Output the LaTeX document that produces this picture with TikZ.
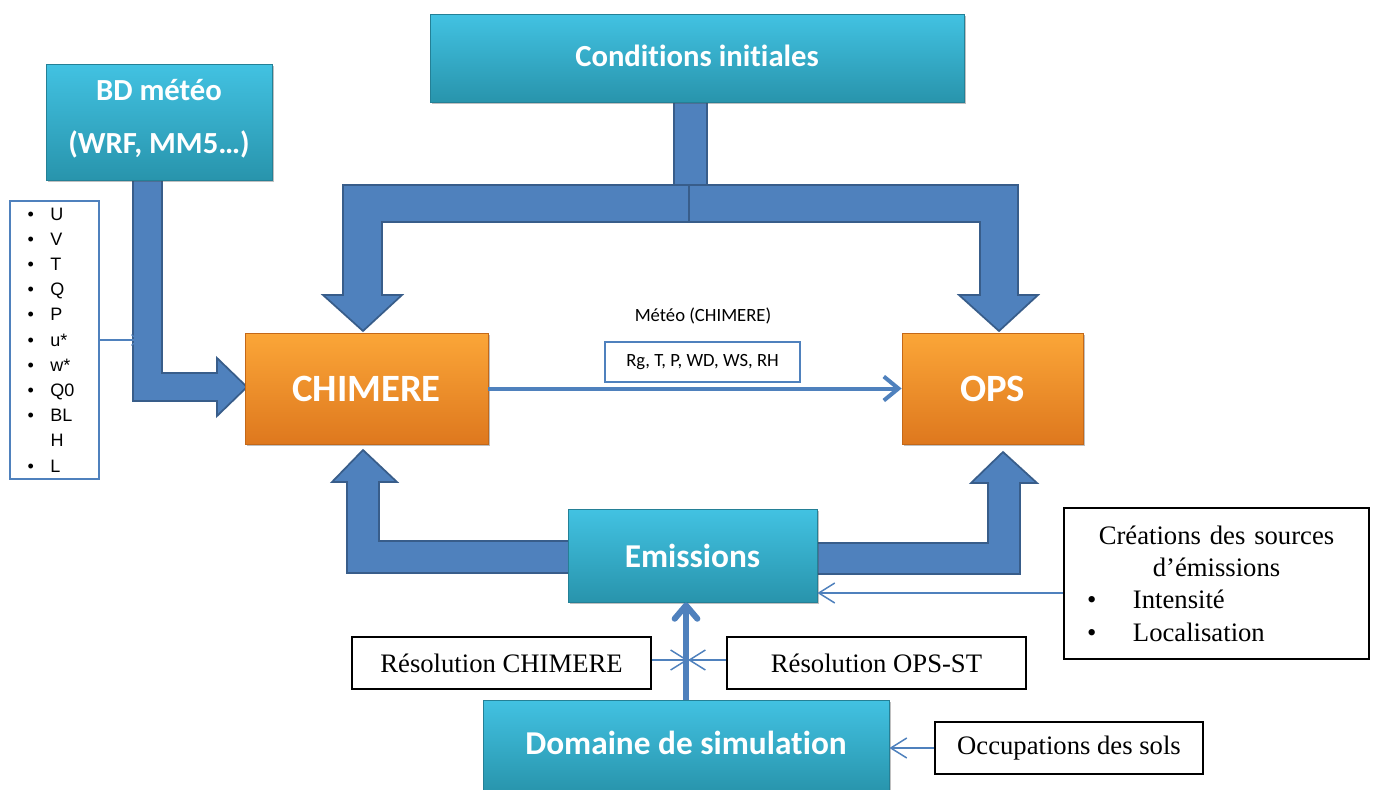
\documentclass[tikz,border=0pt]{standalone}
\usepackage{fontspec}
\setmainfont{Liberation Serif}
\newfontfamily\calibri[Ligatures=NoCommon]{Carlito}
\newfontfamily\arialf{Liberation Sans}
\usetikzlibrary{arrows.meta,shadows,calc}
\definecolor{tealtop}{RGB}{66,194,226}
\definecolor{tealbot}{RGB}{40,148,172}
\definecolor{tealedge}{RGB}{36,128,150}
\definecolor{orgtop}{RGB}{251,166,56}
\definecolor{orgbot}{RGB}{222,120,30}
\definecolor{orgedge}{RGB}{196,104,24}
\definecolor{blk}{RGB}{79,129,189}
\definecolor{blkedge}{RGB}{56,93,138}
\tikzset{
  boxshadow/.style={drop shadow={shadow xshift=1.8pt,shadow yshift=-1.8pt,opacity=0.35,fill=black!70}},
  tealbox/.style={draw=tealedge, line width=0.6pt, top color=tealtop, bottom color=tealbot,
     text=white, boxshadow, inner sep=0pt},
  orangebox/.style={draw=orgedge, line width=0.6pt, top color=orgtop, bottom color=orgbot,
     text=white, boxshadow, inner sep=0pt},
  blockarrow/.style={fill=blk, draw=blkedge, line width=1.3pt, line join=miter},
  plainbox/.style={draw=black, line width=1.2pt, fill=white, inner sep=0pt,
     font=\fontsize{20}{24}\selectfont},
  thinarr/.style={draw=blk, line width=1.1pt, -{Straight Barb[length=12pt,width=15pt]}},
  smallarr/.style={draw=blk, line width=0.8pt, -{Straight Barb[length=5pt,width=8pt]}},
  midarr/.style={draw=blk, line width=3pt, -{Straight Barb[length=11pt,width=18pt]}},
  vertarr/.style={draw=blk, line width=4.5pt, -{Straight Barb[round,length=10pt,width=17pt]}},
}
\begin{document}
\begin{tikzpicture}[x=0.75pt,y=-0.75pt]
\fill[white] (0,0) rectangle (1376,789);
\useasboundingbox (0,0) rectangle (1376,789);

% block arrows
\draw[blockarrow] (674,100) rectangle (707,187);
\draw[blockarrow] (689,185) -- (343,185) -- (343,295) -- (323,295) -- (363,331) -- (402,295) -- (382,295) -- (382,222) -- (689,222) -- cycle;
\draw[blockarrow] (689,185) -- (1018,185) -- (1018,295) -- (1038,295) -- (999,331) -- (959,295) -- (980,295) -- (980,222) -- (689,222) -- cycle;
\draw[blockarrow] (133,176) -- (162,176) -- (162,373) -- (217,373) -- (217,358) -- (247,387) -- (217,416) -- (217,401) -- (133,401) -- cycle;
\draw[blockarrow] (570,541) -- (379,541) -- (379,482) -- (397,482) -- (363,450) -- (332,482) -- (347,482) -- (347,573) -- (570,573) -- cycle;
\draw[blockarrow] (815,543) -- (988,543) -- (988,483) -- (971,483) -- (1003,452) -- (1037,483) -- (1020,483) -- (1020,574) -- (815,574) -- cycle;

% main boxes
\node[tealbox, minimum width=400.5pt, minimum height=66pt,
      font=\calibri\bfseries\fontsize{23}{27}\selectfont] (cond) at (697,58)
  {\raisebox{1.5pt}[\height][\depth]{Conditions initiales}};
\node[tealbox, minimum width=169.5pt, minimum height=87pt,
      font=\calibri\bfseries\fontsize{23}{39.75}\selectfont] (bd) at (159,122)
  {\raisebox{4.5pt}[\height][\depth]{\begin{tabular}{@{}c@{}}BD météo\\(WRF, MM5…)\end{tabular}}};
\node[orangebox, minimum width=182.25pt, minimum height=83.25pt,
      font=\calibri\bfseries\fontsize{29}{34}\selectfont] (chim) at (366.5,388.5) {CHIMERE};
\node[orangebox, minimum width=135.75pt, minimum height=83.25pt,
      font=\calibri\bfseries\fontsize{29}{34}\selectfont] (ops) at (992.5,388.5) {OPS};
\node[tealbox, minimum width=186.75pt, minimum height=69.75pt,
      font=\calibri\bfseries\fontsize{25}{30}\selectfont] (emis) at (692.5,555.5) {Emissions};
\node[tealbox, minimum width=304.5pt, minimum height=69pt,
      font=\calibri\bfseries\fontsize{25}{30}\selectfont] (dom) at (686,746)
  {\raisebox{2.25pt}[\height][\depth]{Domaine de simulation}};

% variable list
\node[draw=blk, line width=2pt, fill=white, minimum width=66.75pt, minimum height=208.5pt,
      text width=40.5pt, align=left, inner sep=0pt,
      font=\arialf\fontsize{13.5}{18.9}\selectfont] (list) at (54.5,340)
  {\makebox[17.25pt][l]{\textbullet}U\\
   \makebox[17.25pt][l]{\textbullet}V\\
   \makebox[17.25pt][l]{\textbullet}T\\
   \makebox[17.25pt][l]{\textbullet}Q\\
   \makebox[17.25pt][l]{\textbullet}P\\
   \makebox[17.25pt][l]{\textbullet}u*\\
   \makebox[17.25pt][l]{\textbullet}w*\\
   \makebox[17.25pt][l]{\textbullet}Q0\\
   \makebox[17.25pt][l]{\textbullet}BL\\
   \makebox[17.25pt][l]{}H\\
   \makebox[17.25pt][l]{\textbullet}L};

% meteo label
\node[font=\calibri\fontsize{14}{16}\selectfont, inner sep=0pt] (mlabel) at (703,316) {Météo (CHIMERE)};
\node[draw=blk, line width=1.5pt, fill=white, minimum width=146.25pt, minimum height=30pt, inner sep=0pt,
      font=\calibri\fontsize{14}{16}\selectfont] (mbox) at (702.5,362) {Rg, T, P, WD, WS, RH\hspace{6pt}};

% plain boxes
\node[plainbox, minimum width=224.25pt, minimum height=39pt] (resC) at (501.5,663) {Résolution CHIMERE};
\node[plainbox, minimum width=224.25pt, minimum height=39pt] (resO) at (876.5,663) {Résolution OPS-ST};
\node[plainbox, minimum width=201pt, minimum height=39pt] (occ) at (1069,748) {Occupations des sols};
\node[plainbox, minimum width=228.75pt, minimum height=113.25pt, text width=197.25pt, align=center,
      font=\fontsize{20}{24.2}\selectfont] (crea) at (1216.5,583.5)
  {Créations des sources\\ d’émissions\\
   \makebox[197.25pt][l]{\makebox[36pt][l]{\hspace{1.5pt}\textbullet}Intensité}\\
   \makebox[197.25pt][l]{\makebox[36pt][l]{\hspace{1.5pt}\textbullet}Localisation}};

% connectors
\coordinate (lt) at (139,340);
\draw[smallarr] (list.east) -- (lt);
\draw[midarr] (chim.east) -- (ops.west);
\draw[vertarr] (dom.north) -- (dom.north |- emis.south);
\coordinate (cross) at (688,660);
\draw[thinarr] (resC.east |- cross) -- (cross);
\draw[thinarr] (resO.west |- cross) -- (cross);
\path ($(crea.west)+(0,9.5)$) coordinate (cw);
\draw[thinarr] (cw) -- (cw -| emis.east);
\draw[thinarr] (occ.west) -- (occ.west -| dom.east);
\end{tikzpicture}
\end{document}
